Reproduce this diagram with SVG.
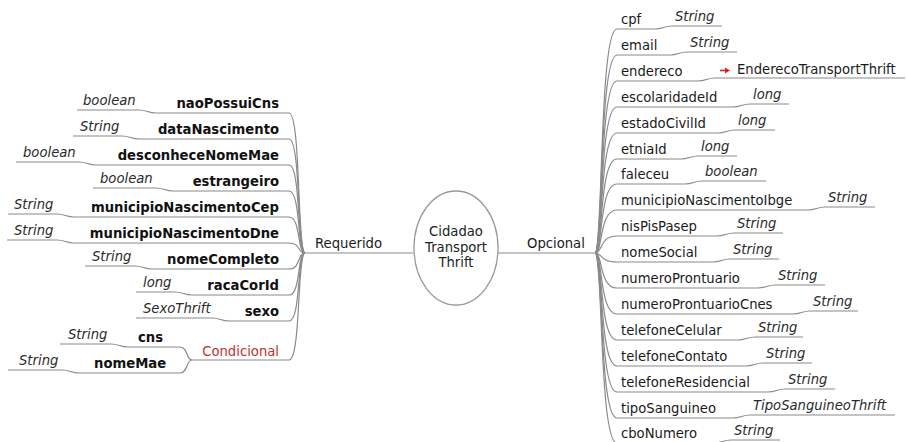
<svg xmlns="http://www.w3.org/2000/svg" width="906" height="442" viewBox="0 0 906 442">
<style>
text{font-family:"DejaVu Sans","Liberation Sans",sans-serif;font-size:13.2px}
.n{fill:#1a1a1a}
.b{fill:#111;font-weight:bold;text-anchor:end}
.bs{fill:#111;font-weight:bold}
.t{fill:#2a2a2a;font-style:italic}
.c{fill:#222;text-anchor:middle}
.red{fill:#c03030;text-anchor:end}
.ul,.e{fill:none;stroke:#8a8a8a;stroke-width:1.2}
</style>
<rect width="906" height="442" fill="#fff"/>
<g id="connectors">
<path class="e" d="M413,253 L305,253"/>
<path class="e" d="M497,253 L595,253"/>
<path class="e" d="M305,253 C297,253 301,113 289,113"/>
<path class="e" d="M305,253 C297,253 301,139 289,139"/>
<path class="e" d="M305,253 C297,253 301,165 289,165"/>
<path class="e" d="M305,253 C297,253 301,191 289,191"/>
<path class="e" d="M305,253 C297,253 301,217 289,217"/>
<path class="e" d="M305,253 C297,253 301,243 289,243"/>
<path class="e" d="M305,253 C297,253 301,269 289,269"/>
<path class="e" d="M305,253 C297,253 301,295 289,295"/>
<path class="e" d="M305,253 C297,253 301,321 289,321"/>
<path class="e" d="M305,253 C297,253 301,360 289,360"/>
<path class="e" d="M192,360 C186,360 188,347 180,347"/>
<path class="e" d="M192,360 C186,360 188,373 180,373"/>
<path class="e" d="M595,253 C603,253 599,29 617,29"/>
<path class="e" d="M595,253 C603,253 599,55 617,55"/>
<path class="e" d="M595,253 C603,253 599,81 617,81"/>
<path class="e" d="M595,253 C603,253 599,107 617,107"/>
<path class="e" d="M595,253 C603,253 599,133 617,133"/>
<path class="e" d="M595,253 C603,253 599,159 617,159"/>
<path class="e" d="M595,253 C603,253 599,184 617,184"/>
<path class="e" d="M595,253 C603,253 599,210 617,210"/>
<path class="e" d="M595,253 C603,253 599,236 617,236"/>
<path class="e" d="M595,253 C603,253 599,262 617,262"/>
<path class="e" d="M595,253 C603,253 599,288 617,288"/>
<path class="e" d="M595,253 C603,253 599,314 617,314"/>
<path class="e" d="M595,253 C603,253 599,340 617,340"/>
<path class="e" d="M595,253 C603,253 599,366 617,366"/>
<path class="e" d="M595,253 C603,253 599,392 617,392"/>
<path class="e" d="M595,253 C603,253 599,418 617,418"/>
<path class="e" d="M595,253 C603,253 599,443 617,443"/>
</g>
<g id="root">
<ellipse cx="456" cy="248" rx="42" ry="57" fill="#fff" stroke="#999" stroke-width="1.3"/>
<text class="c" x="456" y="236">Cidadao</text>
<text class="c" x="456" y="251.5">Transport</text>
<text class="c" x="456" y="267">Thrift</text>
</g>
<g id="requerido"><text class="n" x="315" y="248">Requerido</text></g>
<g id="opcional"><text class="n" x="527" y="248">Opcional</text></g>
<!-- left -->
<g id="naoPossuiCns"><path class="ul" d="M77,110 L139,110 C147,110 148,113 156,113 L289,113"/><text class="t" x="83" y="105">boolean</text><text class="b" x="279" y="108">naoPossuiCns</text></g>
<g id="dataNascimento"><path class="ul" d="M73,136 L122,136 C130,136 131,139 139,139 L289,139"/><text class="t" x="80" y="131">String</text><text class="b" x="279" y="134">dataNascimento</text></g>
<g id="desconheceNomeMae"><path class="ul" d="M16,162 L79,162 C87,162 88,165 96,165 L289,165"/><text class="t" x="23" y="157">boolean</text><text class="b" x="279" y="160">desconheceNomeMae</text></g>
<g id="estrangeiro"><path class="ul" d="M93,188 L156,188 C164,188 165,191 173,191 L289,191"/><text class="t" x="100" y="183">boolean</text><text class="b" x="279" y="186">estrangeiro</text></g>
<g id="municipioNascimentoCep"><path class="ul" d="M8,214 L57,214 C65,214 66,217 74,217 L289,217"/><text class="t" x="14" y="209">String</text><text class="b" x="279" y="212">municipioNascimentoCep</text></g>
<g id="municipioNascimentoDne"><path class="ul" d="M7,240 L57,240 C65,240 66,243 74,243 L289,243"/><text class="t" x="14" y="235">String</text><text class="b" x="279" y="238">municipioNascimentoDne</text></g>
<g id="nomeCompleto"><path class="ul" d="M85,266 L135,266 C143,266 144,269 152,269 L289,269"/><text class="t" x="92" y="261">String</text><text class="b" x="279" y="264">nomeCompleto</text></g>
<g id="racaCorId"><path class="ul" d="M136,292 L175,292 C183,292 184,295 192,295 L289,295"/><text class="t" x="143" y="287">long</text><text class="b" x="279" y="290">racaCorId</text></g>
<g id="sexo"><path class="ul" d="M136,318 L212,318 C220,318 221,321 229,321 L289,321"/><text class="t" x="143" y="313">SexoThrift</text><text class="b" x="279" y="316">sexo</text></g>
<g id="condicional"><path class="ul" d="M192,360 L289,360"/><text class="red" x="279" y="356">Condicional</text></g>
<g id="cns"><path class="ul" d="M60,344 L111,344 C119,344 120,347 128,347 L180,347"/><text class="t" x="68" y="339">String</text><text class="bs" x="138" y="342">cns</text></g>
<g id="nomeMae"><path class="ul" d="M8,370 L62,370 C70,370 71,373 79,373 L180,373"/><text class="t" x="19" y="365">String</text><text class="bs" x="94" y="368">nomeMae</text></g>
<!-- right -->
<g id="cpf"><path class="ul" d="M617,29 L655,29 C663,29 664,26 672,26 L722,26"/><text class="n" x="621" y="24">cpf</text><text class="t" x="675" y="21">String</text></g>
<g id="email"><path class="ul" d="M617,55 L670,55 C678,55 679,52 687,52 L737,52"/><text class="n" x="621" y="50">email</text><text class="t" x="690" y="47">String</text></g>
<g id="endereco"><path class="ul" d="M617,81 L698,81 C706,81 707,78 715,78 L905,78"/><text class="n" x="621" y="76">endereco</text><path d="M720,70.5 L726,70.5" stroke="#e02020" stroke-width="1.6" fill="none"/><path d="M725,67.5 L730,70.5 L725,73.5 Z" fill="#e02020"/><text class="n" x="737" y="74">EnderecoTransportThrift</text></g>
<g id="escolaridadeId"><path class="ul" d="M617,107 L733,107 C741,107 742,104 750,104 L789,104"/><text class="n" x="621" y="102">escolaridadeId</text><text class="t" x="753" y="99">long</text></g>
<g id="estadoCivilId"><path class="ul" d="M617,133 L718,133 C726,133 727,130 735,130 L775,130"/><text class="n" x="621" y="128">estadoCivilId</text><text class="t" x="738" y="125">long</text></g>
<g id="etniaId"><path class="ul" d="M617,159 L681,159 C689,159 690,156 698,156 L737,156"/><text class="n" x="621" y="154">etniaId</text><text class="t" x="701" y="151">long</text></g>
<g id="faleceu"><path class="ul" d="M617,184 L685,184 C693,184 694,181 702,181 L766,181"/><text class="n" x="621" y="179">faleceu</text><text class="t" x="705" y="176">boolean</text></g>
<g id="municipioNascimentoIbge"><path class="ul" d="M617,210 L808,210 C816,210 817,207 825,207 L875,207"/><text class="n" x="621" y="205">municipioNascimentoIbge</text><text class="t" x="828" y="202">String</text></g>
<g id="nisPisPasep"><path class="ul" d="M617,236 L717,236 C725,236 726,233 734,233 L783,233"/><text class="n" x="621" y="231">nisPisPasep</text><text class="t" x="737" y="228">String</text></g>
<g id="nomeSocial"><path class="ul" d="M617,262 L713,262 C721,262 722,259 730,259 L779,259"/><text class="n" x="621" y="257">nomeSocial</text><text class="t" x="733" y="254">String</text></g>
<g id="numeroProntuario"><path class="ul" d="M617,288 L758,288 C766,288 767,285 775,285 L825,285"/><text class="n" x="621" y="283">numeroProntuario</text><text class="t" x="778" y="280">String</text></g>
<g id="numeroProntuarioCnes"><path class="ul" d="M617,314 L793,314 C801,314 802,311 810,311 L858,311"/><text class="n" x="621" y="309">numeroProntuarioCnes</text><text class="t" x="813" y="306">String</text></g>
<g id="telefoneCelular"><path class="ul" d="M617,340 L738,340 C746,340 747,337 755,337 L803,337"/><text class="n" x="621" y="335">telefoneCelular</text><text class="t" x="758" y="332">String</text></g>
<g id="telefoneContato"><path class="ul" d="M617,366 L746,366 C754,366 755,363 763,363 L812,363"/><text class="n" x="621" y="361">telefoneContato</text><text class="t" x="766" y="358">String</text></g>
<g id="telefoneResidencial"><path class="ul" d="M617,392 L768,392 C776,392 777,389 785,389 L835,389"/><text class="n" x="621" y="387">telefoneResidencial</text><text class="t" x="788" y="384">String</text></g>
<g id="tipoSanguineo"><path class="ul" d="M617,418 L733,418 C741,418 742,415 750,415 L895,415"/><text class="n" x="621" y="413">tipoSanguineo</text><text class="t" x="753" y="410">TipoSanguineoThrift</text></g>
<g id="cboNumero"><path class="ul" d="M617,443 L714,443 C722,443 723,440 731,440 L780,440"/><text class="n" x="621" y="438">cboNumero</text><text class="t" x="734" y="435">String</text></g>
</svg>
